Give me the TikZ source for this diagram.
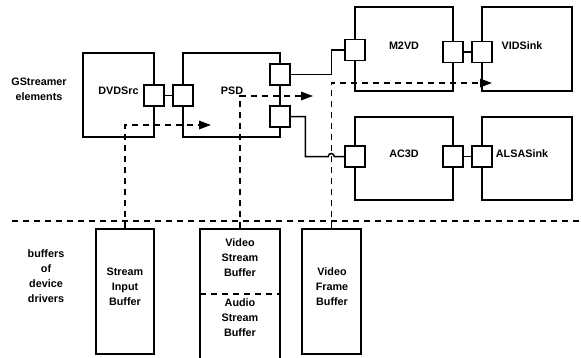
\documentclass[tikz,border=0pt]{standalone}
\usepackage{fontspec}
\setmainfont{Liberation Sans}
\usetikzlibrary{arrows.meta,calc}
\begin{document}
\begin{tikzpicture}[x=1pt,y=-1pt,
  every node/.style={font=\fontsize{10.8}{15}\selectfont\bfseries, align=center},
  elem/.style={draw, line width=1.5pt, inner sep=0pt},
  port/.style={draw, fill=white, line width=1.5pt, minimum width=20pt, minimum height=21pt, inner sep=0pt},
  lbl/.style={inner sep=0pt},
  wire/.style={line width=1.5pt},
  flow/.style={line width=1.5pt, dash pattern=on 6pt off 5pt, -{Triangle[length=12pt,width=8.5pt]}},
  sep/.style={line width=1.5pt, dash pattern=on 6pt off 5pt}]
\useasboundingbox (0,0) rectangle (581,357);
% element boxes
\node[elem, minimum width=71pt, minimum height=84pt] (dvd) at (118.5,95) {};
\node[elem, minimum width=97pt, minimum height=84pt] (psd) at (231.5,95) {};
\node[elem, minimum width=98pt, minimum height=84pt] (m2vd) at (404,49) {};
\node[elem, minimum width=90pt, minimum height=84pt] (vid) at (527,49) {};
\node[elem, minimum width=98pt, minimum height=83pt] (ac3d) at (404,158.5) {};
\node[elem, minimum width=90pt, minimum height=83pt] (alsa) at (527,158.5) {};
% buffer boxes
\node[elem, minimum width=58pt, minimum height=125pt] (sib) at (125,291.5) {};
\node[elem, minimum width=59pt, minimum height=125pt] (vfb) at (331.5,291.5) {};
\node[elem, minimum width=80pt, minimum height=140pt] (vasb) at (240,299) {};
\node[elem, minimum width=80pt, minimum height=0pt, draw=none] (vsb) at (240,229) {};
% labels
\node[lbl] (t1) at (39,89) {GStreamer\\elements};
\node[lbl] (t2) at (46,276.5) {buffers\\of\\device\\drivers};
\node[lbl] (t3) at (118.5,91) {DVDSrc};
\node[lbl] (t4) at (232,91) {PSD};
\node[lbl] (t5) at (404,46) {M2VD};
\node[lbl] (t6) at (522,46) {VIDSink};
\node[lbl] (t7) at (404,154) {AC3D};
\node[lbl] (t8) at (522,154) {ALSASink};
\node[lbl] (t9) at (125,287) {Stream\\Input\\Buffer};
\node[lbl] (t10) at (332,287) {Video\\Frame\\Buffer};
\node[lbl] (t11) at (240,258) {Video\\Stream\\Buffer};
\node[lbl] (t12) at (240,318) {Audio\\Stream\\Buffer};
% divider in stream buffer
\coordinate (dv1) at (200,294);
\coordinate (dv2) at (280,294);
\draw[sep] (dv1) -- (dv2);
% separator line
\coordinate (s1) at (12,221);
\coordinate (s2) at (581,221);
\draw[sep] (s1) -- (s2);
% ports
\node[port] (dvp) at (154,95.5) {};
\node[port] (psl) at (183,95.5) {};
\node[port] (pst) at (280,74.5) {};
\node[port] (psb) at (280,116.5) {};
\node[port] (m2l) at (355,50) {};
\node[port] (m2r) at (453,52) {};
\node[port] (vil) at (482,52) {};
\node[port] (acl) at (355,156.5) {};
\node[port] (acr) at (453,156.5) {};
\node[port] (all) at (482,156.5) {};
% solid links
\draw[wire] (dvp.east) -- (psl.west);
\draw[wire] (m2r.east) -- (vil.west);
\draw[wire] (acr.east) -- (all.west);
\draw[wire] (pst.east) -| ([xshift=-13pt]m2l.west) -- (m2l.west);
\draw[wire] (psb.east) -| ([xshift=-39pt]acl.west) -- ([xshift=-16pt]acl.west)
  arc[start angle=180, end angle=0, radius=3pt] -- (acl.west);
% data flow arrows
\coordinate (a1) at (211,125);
\coordinate (a2) at (313,96);
\coordinate (a3) at (492,83);
\draw[flow] (sib.north) |- (a1);
\draw[flow] (vsb.north) |- (a2);
\draw[flow] (vfb.north) |- (a3);
\end{tikzpicture}
\end{document}
